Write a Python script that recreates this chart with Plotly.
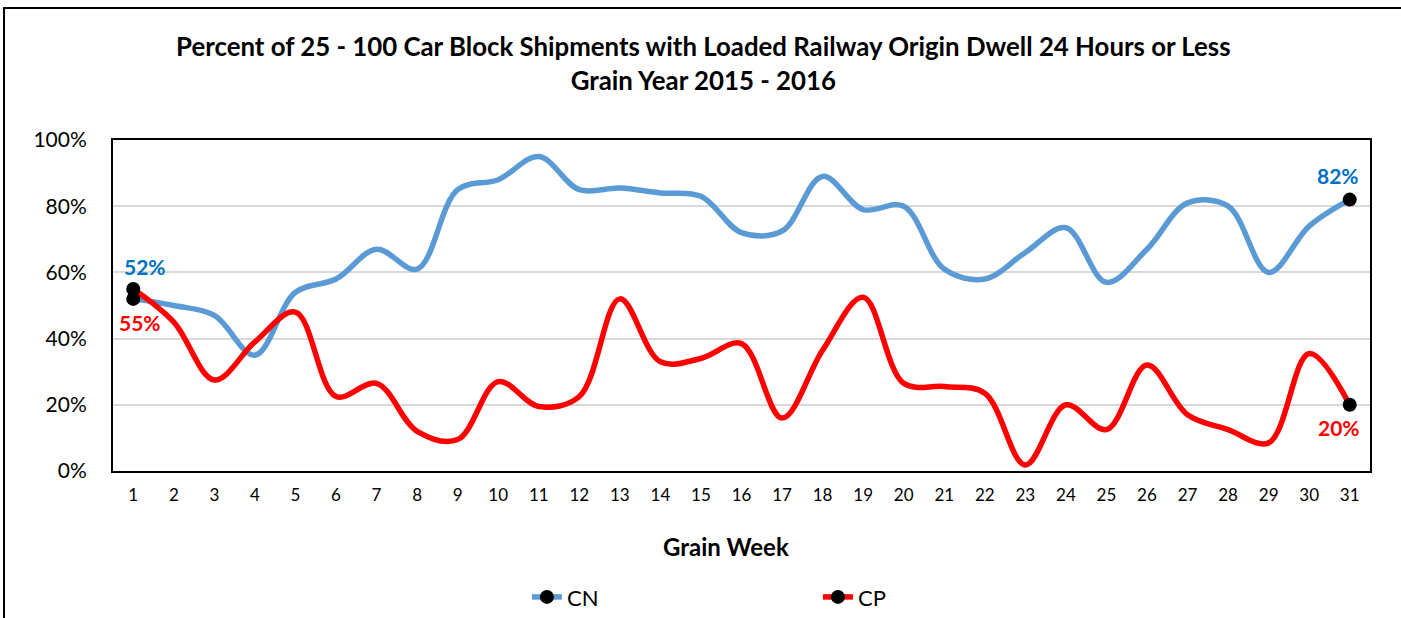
import plotly.graph_objects as go

weeks = list(range(1, 32))
cn = [52, 50, 47, 35, 54, 58, 67, 61, 85, 88, 95, 85, 85.5, 84, 83, 72,
      72.5, 89, 79, 80, 61, 58, 66, 73.5, 57, 67, 81, 80, 60, 74, 82]
cp = [55, 45, 27.5, 39, 48, 22.5, 26.5, 12, 9.5, 27, 19.5, 22.5, 52, 33, 34, 38.5,
      16, 36.5, 52.5, 26.5, 25.5, 23.5, 1.8, 20, 12.5, 32, 17, 12.5, 8.5, 35.5, 20]
yticks = [0, 20, 40, 60, 80, 100]
ytick_text = [f"{v}%" for v in yticks]
series = [("CN", cn, "#5b9bd5", "#0070c0"), ("CP", cp, "#ff0000", "#ff0000")]

FONT = "Lato"
fig = go.Figure()
for name, vals, col, lab in series:
    fig.add_trace(go.Scatter(x=weeks, y=vals, mode="lines", showlegend=False,
                             line=dict(color=col, width=5.5, shape="spline", smoothing=1.0),
                             hoverinfo="skip"))
for name, vals, col, lab in series:
    fig.add_trace(go.Scatter(x=[weeks[0], None, weeks[-1]], y=[vals[0], None, vals[-1]],
                             mode="lines+markers", name=name, connectgaps=False,
                             line=dict(color=col, width=5.5),
                             marker=dict(color="black", size=14)))

# data labels
label_shift = {("CN", 0): (12, 32), ("CP", 0): (7, -34),
               ("CN", -1): (-12, 24), ("CP", -1): (-11, -23)}
for name, vals, col, lab in series:
    for idx in (0, -1):
        xs, ys = label_shift[(name, idx)]
        fig.add_annotation(x=weeks[idx], y=vals[idx], xref="x", yref="y",
                           text=f"<b>{round(vals[idx])}%</b>", showarrow=False,
                           xshift=xs, yshift=ys,
                           font=dict(family=FONT, size=21, color=lab))

fig.add_annotation(x=0.4877, y=-0.278, xref="paper", yref="paper",
                   text="<b>Grain Week</b>", showarrow=False,
                   font=dict(family=FONT, size=24, color="black"))

# outer chart border
fig.add_shape(type="rect", xref="paper", yref="paper",
              x0=-0.0867, x1=1.04, y0=-0.6, y1=1.3988,
              line=dict(color="black", width=2), fillcolor="rgba(0,0,0,0)")

fig.update_layout(
    width=1401, height=618,
    margin=dict(l=113, r=31, t=140, b=147, autoexpand=False),
    paper_bgcolor="white", plot_bgcolor="white",
    font=dict(family=FONT, color="black"),
    title=dict(text="<b>Percent of 25 - 100 Car Block Shipments with Loaded Railway Origin Dwell 24 Hours or Less<br>Grain Year 2015 - 2016</b>",
               x=0.502, xref="container", xanchor="center", y=0.909, yref="container", yanchor="middle",
               font=dict(family=FONT, size=25.8, color="black")),
    legend=dict(orientation="h", x=0.3293, xanchor="left", y=-0.381, yanchor="middle",
                font=dict(family=FONT, size=22, color="black"), entrywidth=246,
                bgcolor="rgba(0,0,0,0)"),
    xaxis=dict(range=[0.5, 31.5], tickmode="array", tickvals=weeks,
               ticktext=[str(w) for w in weeks], showgrid=False, zeroline=False,
               showline=True, linecolor="black", linewidth=2, mirror=True,
               tickfont=dict(family=FONT, size=17), ticklabelstandoff=8),
    yaxis=dict(range=[0, 100], tickmode="array", tickvals=yticks, ticktext=ytick_text,
               showgrid=True, gridcolor="#d9d9d9", gridwidth=1.5, zeroline=False,
               showline=True, linecolor="black", linewidth=2, mirror=True,
               tickfont=dict(family=FONT, size=21), ticklabelstandoff=20),
)

fig.write_html("out.html", config={"displayModeBar": False},
               post_script="document.body.style.margin='0';")
